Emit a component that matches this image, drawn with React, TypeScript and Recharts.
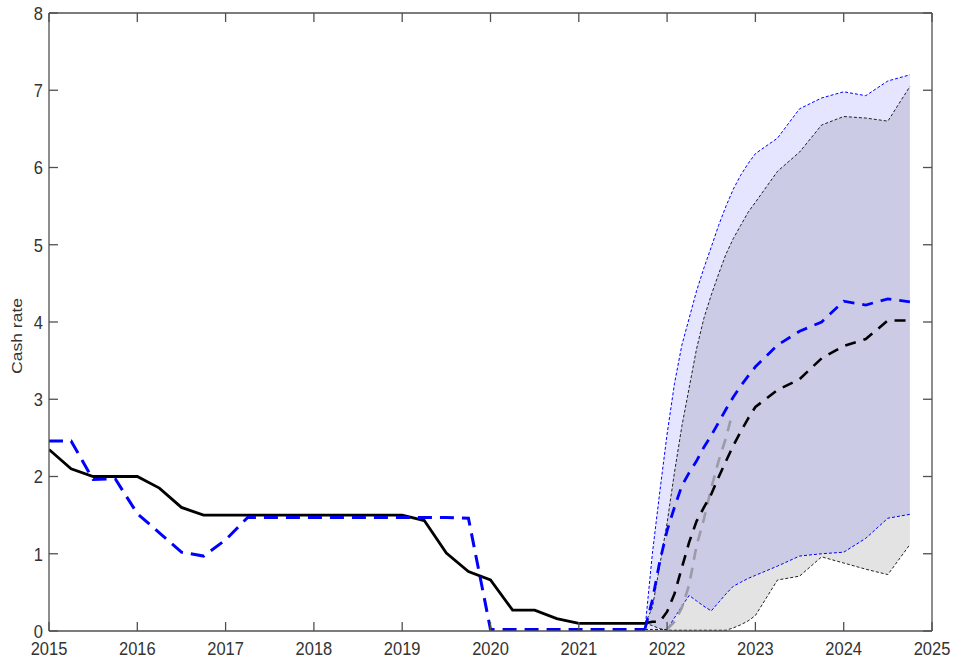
import React from 'react';
import { ComposedChart, Line, Area, XAxis, YAxis, Label } from 'recharts';

// ---- Historical (quarterly) ----
const histX = [
  2015, 2015.25, 2015.5, 2015.75,
  2016, 2016.25, 2016.5, 2016.75,
  2017, 2017.25, 2017.5, 2017.75,
  2018, 2018.25, 2018.5, 2018.75,
  2019, 2019.25, 2019.5, 2019.75,
  2020, 2020.25, 2020.5, 2020.75,
  2021, 2021.25, 2021.5, 2021.75,
];
const cashRateActual = [
  2.35, 2.1, 2.0, 2.0,
  2.0, 1.85, 1.6, 1.5,
  1.5, 1.5, 1.5, 1.5,
  1.5, 1.5, 1.5, 1.5,
  1.5, 1.43, 1.01, 0.77,
  0.66, 0.27, 0.27, 0.16,
  0.1, 0.1, 0.1, 0.1,
];
const cashRateBlueHist = [
  2.46, 2.46, 1.96, 1.97,
  1.52, 1.27, 1.02, 0.97,
  1.18, 1.47, 1.47, 1.47,
  1.47, 1.47, 1.47, 1.47,
  1.47, 1.47, 1.47, 1.46,
  0.02, 0.02, 0.02, 0.02,
  0.02, 0.02, 0.02, 0.02,
];

// ---- Forecast ----
const fcX = [
  2021.75, 2021.833, 2021.917, 2022, 2022.083, 2022.167, 2022.25, 2022.333,
  2022.417, 2022.5, 2022.583, 2022.667, 2022.75, 2022.833, 2022.917, 2023,
  2023.25, 2023.5, 2023.75, 2024, 2024.25, 2024.5, 2024.75,
];
const blueUpper = [
  0.03, 1.0, 1.8, 2.55, 3.2, 3.7, 4.05, 4.4, 4.7, 4.97, 5.25, 5.5, 5.72, 5.9, 6.05, 6.18,
  6.38, 6.76, 6.9, 6.98, 6.93, 7.12, 7.2,
];
const blueLower = [
  0.02, 0.02, 0.02, 0.02, 0.17, 0.32, 0.46, 0.39, 0.32, 0.26, 0.37, 0.48, 0.58, 0.63, 0.68, 0.72,
  0.84, 0.97, 1.0, 1.02, 1.2, 1.46, 1.51,
];
const blackUpper = [
  0.1, 0.3, 0.85, 1.4, 2.05, 2.65, 3.15, 3.65, 4.05, 4.35, 4.62, 4.88, 5.08, 5.25, 5.42, 5.55,
  5.95, 6.2, 6.55, 6.66, 6.64, 6.6, 7.05,
];
const blackLower = [
  0.1, 0.07, 0.03, 0.01, 0.01, 0.01, 0.01, 0.01, 0.01, 0.01, 0.01, 0.01, 0.04, 0.08, 0.13, 0.2,
  0.66, 0.71, 0.96, 0.88, 0.8, 0.73, 1.12,
];
const blueCentral = [
  0.03, 0.4, 0.9, 1.3, 1.6, 1.88, 2.05, 2.2, 2.38, 2.53, 2.7, 2.87, 3.03, 3.17, 3.3, 3.42,
  3.7, 3.88, 4.0, 4.27, 4.22, 4.3, 4.26,
];
const blackCentral = [
  0.1, 0.12, 0.12, 0.25, 0.48, 0.82, 1.15, 1.42, 1.6, 1.77, 1.99, 2.2, 2.4, 2.58, 2.75, 2.9,
  3.12, 3.26, 3.53, 3.69, 3.78, 4.02, 4.02,
];
const grayX = [2022, 2022.083, 2022.167, 2022.25, 2022.333, 2022.417, 2022.5, 2022.583, 2022.667, 2022.73];
const grayCentral = [0.02, 0.12, 0.3, 0.6, 1.1, 1.45, 1.85, 2.2, 2.5, 2.78];

// ---- Axis ticks ----
const xTicks = [2015, 2016, 2017, 2018, 2019, 2020, 2021, 2022, 2023, 2024, 2025];
const yTicks = [0, 1, 2, 3, 4, 5, 6, 7, 8];
const yLabel = 'Cash rate';

const histData = histX.map((x, i) => ({ x, actual: cashRateActual[i], blue: cashRateBlueHist[i] }));
const fcData = fcX.map((x, i) => ({
  x,
  blueBand: [blueLower[i], blueUpper[i]],
  blackBand: [blackLower[i], blackUpper[i]],
  blueUpper: blueUpper[i],
  blueLower: blueLower[i],
  blackUpper: blackUpper[i],
  blackLower: blackLower[i],
  blueCentral: blueCentral[i],
  blackCentral: blackCentral[i],
}));
const grayData = grayX.map((x, i) => ({ x, gray: grayCentral[i] }));

const AXIS = '#505050';
const AXIS_W = 1.3;
const TICK_LEN = 9;
const FONT = '"Liberation Sans", Arial, Helvetica, sans-serif';
const FS = 16.5;
const STRETCH = 1.15;
const TXT = '#333';

const BottomTick = (props: any) => {
  const { x, y, payload } = props;
  return (
    <g>
      <line x1={x} y1={y} x2={x} y2={y - TICK_LEN} stroke={AXIS} strokeWidth={AXIS_W} />
      <text
        transform={`translate(${x}, ${y + 24}) scale(1, ${STRETCH})`}
        textAnchor="middle"
        fontSize={FS}
        fontFamily={FONT}
        fill={TXT}
      >
        {payload.value}
      </text>
    </g>
  );
};

const LeftTick = (props: any) => {
  const { x, y, payload } = props;
  return (
    <g>
      <line x1={x} y1={y} x2={x + TICK_LEN} y2={y} stroke={AXIS} strokeWidth={AXIS_W} />
      <text
        transform={`translate(${x - 6}, ${y + 6.8}) scale(1, ${STRETCH})`}
        textAnchor="end"
        fontSize={FS}
        fontFamily={FONT}
        fill={TXT}
      >
        {payload.value}
      </text>
    </g>
  );
};

const TopTick = (props: any) => {
  const { x, y } = props;
  return <line x1={x} y1={y} x2={x} y2={y + TICK_LEN} stroke={AXIS} strokeWidth={AXIS_W} />;
};

const RightTick = (props: any) => {
  const { x, y } = props;
  return <line x1={x} y1={y} x2={x - TICK_LEN} y2={y} stroke={AXIS} strokeWidth={AXIS_W} />;
};

const YLabelContent = () => (
  <text
    transform={`translate(22, 336) rotate(-90) scale(1.17, 1)`}
    textAnchor="middle"
    fontSize={15}
    fontFamily={FONT}
    fill={TXT}
  >
    {yLabel}
  </text>
);

export default function App() {
  return (
    <div style={{ position: 'absolute', left: 0, top: 0, width: 955, height: 661, background: '#fff' }}>
      <ComposedChart
        width={955}
        height={661}
        margin={{ top: 12, right: 22, bottom: 0, left: 0 }}
        style={{ fontFamily: FONT }}
      >
        <XAxis
          dataKey="x"
          type="number"
          domain={[2015, 2025]}
          ticks={xTicks}
          interval={0}
          allowDataOverflow
          height={30}
          tickSize={0}
          tickMargin={0}
          tickLine={false}
          tick={<BottomTick />}
          axisLine={{ stroke: AXIS, strokeWidth: AXIS_W }}
        />
        <XAxis
          xAxisId="top"
          orientation="top"
          dataKey="x"
          type="number"
          domain={[2015, 2025]}
          ticks={xTicks}
          interval={0}
          allowDataOverflow
          height={1}
          tickSize={0}
          tickMargin={0}
          tickLine={false}
          tick={<TopTick />}
          axisLine={{ stroke: AXIS, strokeWidth: AXIS_W }}
        />
        <YAxis
          type="number"
          domain={[0, 8]}
          ticks={yTicks}
          interval={0}
          allowDataOverflow
          width={49}
          tickSize={0}
          tickMargin={0}
          tickLine={false}
          tick={<LeftTick />}
          axisLine={{ stroke: AXIS, strokeWidth: AXIS_W }}
        >
          <Label content={<YLabelContent />} />
        </YAxis>
        <YAxis
          yAxisId="right"
          orientation="right"
          type="number"
          domain={[0, 8]}
          ticks={yTicks}
          interval={0}
          allowDataOverflow
          width={1}
          tickSize={0}
          tickMargin={0}
          tickLine={false}
          tick={<RightTick />}
          axisLine={{ stroke: AXIS, strokeWidth: AXIS_W }}
        />

        {/* Bands */}
        <Area
          data={fcData}
          dataKey="blackBand"
          type="linear"
          stroke="none"
          fill="#000000"
          fillOpacity={0.11}
          isAnimationActive={false}
          activeDot={false}
        />
        <Area
          data={fcData}
          xAxisId="top"
          yAxisId="right"
          dataKey="blueBand"
          type="linear"
          stroke="none"
          fill="#0000ff"
          fillOpacity={0.1}
          isAnimationActive={false}
          activeDot={false}
        />

        {/* Band edges */}
        <Line data={fcData} dataKey="blackUpper" type="linear" stroke="#222" strokeWidth={1} strokeDasharray="3 2" dot={false} activeDot={false} isAnimationActive={false} />
        <Line data={fcData} dataKey="blackLower" type="linear" stroke="#222" strokeWidth={1} strokeDasharray="3 2" dot={false} activeDot={false} isAnimationActive={false} />
        <Line data={fcData} xAxisId="top" yAxisId="right" dataKey="blueUpper" type="linear" stroke="#0000ff" strokeWidth={1} strokeDasharray="3 2" dot={false} activeDot={false} isAnimationActive={false} />
        <Line data={fcData} xAxisId="top" yAxisId="right" dataKey="blueLower" type="linear" stroke="#0000ff" strokeWidth={1} strokeDasharray="3 2" dot={false} activeDot={false} isAnimationActive={false} />

        {/* History */}
        <Line data={histData} dataKey="actual" type="linear" stroke="#000" strokeWidth={2.8} dot={false} activeDot={false} isAnimationActive={false} />
        <Line data={histData} dataKey="blue" type="linear" stroke="#0000ff" strokeWidth={3} strokeDasharray="14 8" dot={false} activeDot={false} isAnimationActive={false} />

        {/* Forecast central paths */}
        <Line data={grayData} dataKey="gray" type="linear" stroke="#9a9aa8" strokeWidth={2.6} strokeDasharray="11 8" dot={false} activeDot={false} isAnimationActive={false} />
        <Line data={fcData} dataKey="blackCentral" type="linear" stroke="#000" strokeWidth={2.6} strokeDasharray="11 8" dot={false} activeDot={false} isAnimationActive={false} />
        <Line data={fcData} dataKey="blueCentral" type="linear" stroke="#0000ff" strokeWidth={2.8} strokeDasharray="11 8" dot={false} activeDot={false} isAnimationActive={false} />
      </ComposedChart>
    </div>
  );
}
